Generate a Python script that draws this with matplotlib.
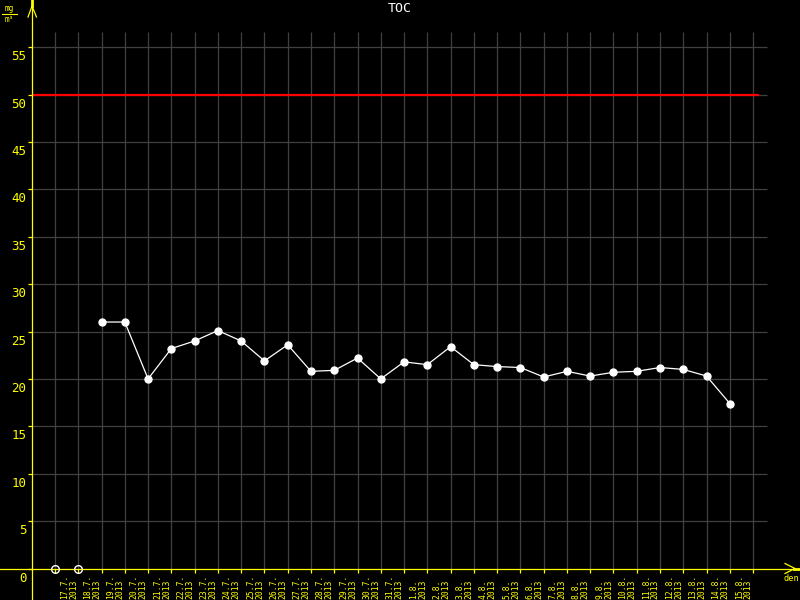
import numpy as np
import matplotlib
matplotlib.use("Agg")
import matplotlib.pyplot as plt
from matplotlib.transforms import ScaledTranslation

# ---------------- data ----------------
title = "TOC"
unit_num = "mg"
unit_den = "m³"
x_name = "den"
year = "2013"
dates = ["17.7.", "18.7.", "19.7.", "20.7.", "21.7.", "22.7.", "23.7.", "24.7.",
         "25.7.", "26.7.", "27.7.", "28.7.", "29.7.", "30.7.", "31.7.",
         "1.8.", "2.8.", "3.8.", "4.8.", "5.8.", "6.8.", "7.8.", "8.8.",
         "9.8.", "10.8.", "11.8.", "12.8.", "13.8.", "14.8.", "15.8."]
toc_values = [np.nan, np.nan, 26.0, 26.0, 20.0, 23.2, 24.0, 25.1, 24.0, 21.9,
              23.6, 20.8, 20.9, 22.2, 20.0, 21.8, 21.5, 23.4, 21.5, 21.3,
              21.2, 20.2, 20.8, 20.3, 20.7, 20.8, 21.2, 21.0, 20.3, 17.4]
limit = 50
y_ticks = [0, 5, 10, 15, 20, 25, 30, 35, 40, 45, 50, 55]

# ---------------- style ----------------
BG = "black"
YEL = "#ffff00"
GRID = "#404040"
RED = "#ff0000"
WHITE = "white"
MONO = "DejaVu Sans Mono"

W, H = 800, 600
x0_px, step_px = 55.0, 23.27
y0_px, unit_px = 568.5, 9.48


def dx(px):
    return (px - x0_px) / step_px


def dy(py):
    return (y0_px - py) / unit_px


fig = plt.figure(figsize=(W / 100, H / 100), dpi=100, facecolor=BG)
ax = fig.add_axes([0, 0, 1, 1], facecolor=BG)
ax.set_xlim(dx(0), dx(W))
ax.set_ylim(dy(H), dy(0))

n = len(dates)
xs = np.arange(n)
vals = np.array(toc_values, dtype=float)

yaxis_x = dx(32)

# grid
ax.hlines(y_ticks[1:], yaxis_x, dx(767), colors=GRID, lw=0.9, zorder=1)
ax.vlines(np.arange(n + 1), 0, dy(32), colors=GRID, lw=0.9, zorder=1)

# limit line
ax.hlines(limit, yaxis_x, dx(759), colors=RED, lw=1.6, zorder=2)

# data
ax.plot(xs, vals, color=WHITE, lw=0.9, marker="o", ms=5, mfc=WHITE, mec=WHITE,
        zorder=4)
missing = np.isnan(vals)
ax.plot(xs[missing], np.zeros(missing.sum()), linestyle="none", marker="o",
        ms=5.5, mfc="none", mec=WHITE, mew=1.0, zorder=5)

# spines / axes
for s in ("top", "right"):
    ax.spines[s].set_visible(False)
ax.spines["left"].set_position(("data", yaxis_x))
ax.spines["bottom"].set_position(("data", 0))
ax.spines["left"].set_color(YEL)
ax.spines["bottom"].set_color(YEL)
ax.spines["left"].set_linewidth(0.9)
ax.spines["bottom"].set_linewidth(0.9)
ax.spines["left"].set_bounds(dy(H), dy(6))
ax.spines["bottom"].set_bounds(dx(0), dx(795))
ax.spines["left"].set_zorder(3)
ax.spines["bottom"].set_zorder(3)

ax.set_yticks(y_ticks)
ax.set_yticklabels([str(v) for v in y_ticks])
ax.tick_params(axis="y", direction="out", length=3, width=0.9, color=YEL,
               labelcolor=YEL, labelsize=9, pad=1)
for lab in ax.get_yticklabels():
    lab.set_fontfamily(MONO)
    lab.set_verticalalignment("top")
    lab.set_transform(lab.get_transform() +
                      ScaledTranslation(0, -3 / 100, fig.dpi_scale_trans))

ax.set_xticks(np.arange(n + 1))
ax.set_xticklabels([])
ax.tick_params(axis="x", direction="out", length=3, width=0.9, color=YEL)

# date labels
for i, d in enumerate(dates):
    ax.text(i + 0.5 + 0.1, dy(599), f"{d}\n{year}", rotation=90, ha="center",
            va="bottom", multialignment="left", fontsize=5.8, color=YEL,
            family=MONO, linespacing=1.0)

# arrows
ax.plot([dx(28), dx(32), dx(36.5)], [dy(17), dy(6), dy(17)], color=YEL,
        lw=0.9, clip_on=False, zorder=3)
ax.plot([dx(32), dx(32)], [dy(6), dy(0)], color=YEL, lw=2.0, clip_on=False,
        zorder=3)
ax.plot([dx(785), dx(795), dx(785)], [dy(563.5), dy(568.5), dy(573.5)],
        color=YEL, lw=0.9, clip_on=False, zorder=3)
ax.plot([dx(794), dx(800)], [0, 0], color=YEL, lw=2.0, clip_on=False,
        zorder=3)

# texts
fig.text(400 / W, 1 - 2 / H, title, ha="center", va="top", color=WHITE,
         fontsize=9.5, family=MONO)
ax.text(dx(791), dy(574), x_name, ha="center", va="top", color=YEL,
        fontsize=6.2, family=MONO)
ax.text(dx(9), dy(13), unit_num, ha="center", va="bottom", color=YEL,
        fontsize=5.5, family=MONO)
ax.text(dx(9), dy(14.5), unit_den, ha="center", va="top", color=YEL,
        fontsize=5.5, family=MONO)
ax.plot([dx(2), dx(17)], [dy(13.5), dy(13.5)], color=YEL, lw=0.8,
        clip_on=False)

fig.savefig("out.png", dpi=100, facecolor=BG)
